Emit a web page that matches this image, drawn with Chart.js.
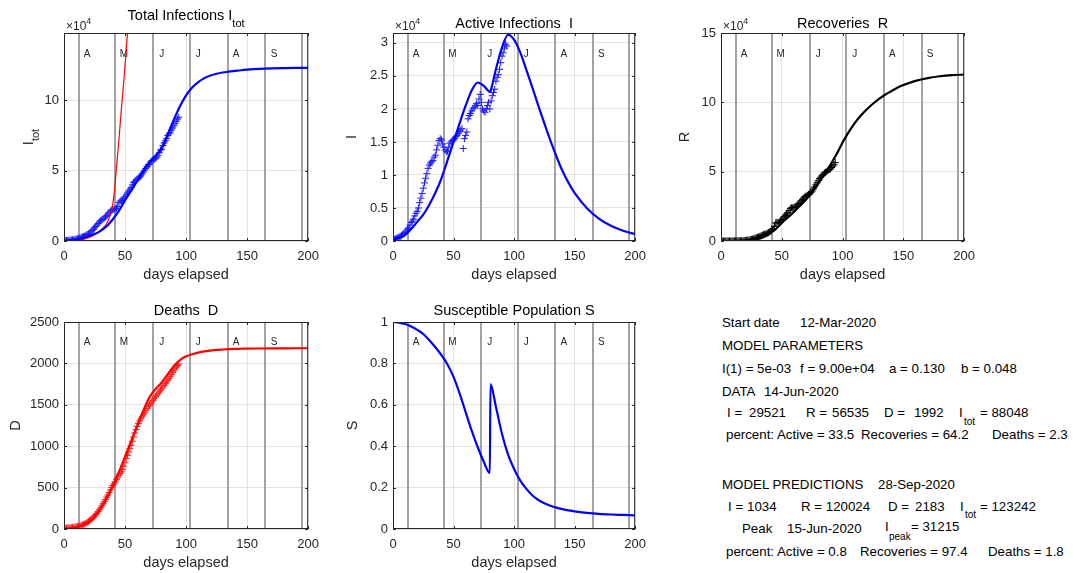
<!DOCTYPE html>
<html>
<head>
<meta charset="utf-8">
<title>COVID model</title>
<script src="https://cdn.jsdelivr.net/npm/chart.js@4.4.0/dist/chart.umd.min.js"></script>
<style>
  body { margin: 0; background: #fff; width: 1073px; height: 573px; position: relative; overflow: hidden;
         font-family: "Liberation Sans", Arial, sans-serif; }
  canvas { position: absolute; }
  .t { position: absolute; font-size: 13.3px; line-height: 16px; color: #000; white-space: pre; }
  .s { position: absolute; font-size: 10px; line-height: 12px; color: #000; white-space: pre; }
</style>
</head>
<body>
<canvas id="cItot" width="327" height="289" style="left:0;top:0"></canvas>
<canvas id="cI" width="325" height="289" style="left:329px;top:0"></canvas>
<canvas id="cR" width="326" height="289" style="left:657px;top:0"></canvas>
<canvas id="cD" width="327" height="288" style="left:0;top:289px"></canvas>
<canvas id="cS" width="325" height="288" style="left:329px;top:289px"></canvas>

<!-- summary text panel -->
<div class="t" style="left:722px;top:315px">Start date</div>
<div class="t" style="left:800px;top:315px">12-Mar-2020</div>
<div class="t" style="left:722px;top:338px">MODEL PARAMETERS</div>
<div class="t" style="left:722px;top:361px">I(1) = 5e-03</div>
<div class="t" style="left:800px;top:361px">f = 9.00e+04</div>
<div class="t" style="left:889px;top:361px">a = 0.130</div>
<div class="t" style="left:961px;top:361px">b = 0.048</div>
<div class="t" style="left:722px;top:384px">DATA</div>
<div class="t" style="left:764px;top:384px">14-Jun-2020</div>
<div class="t" style="left:727px;top:405px">I =</div>
<div class="t" style="left:749px;top:405px">29521</div>
<div class="t" style="left:806px;top:405px">R =</div>
<div class="t" style="left:832px;top:405px">56535</div>
<div class="t" style="left:884px;top:405px">D =</div>
<div class="t" style="left:914px;top:405px">1992</div>
<div class="t" style="left:959px;top:405px">I</div>
<div class="s" style="left:964px;top:416px">tot</div>
<div class="t" style="left:980px;top:405px">= 88048</div>
<div class="t" style="left:726px;top:427px">percent: Active = 33.5</div>
<div class="t" style="left:861px;top:427px">Recoveries = 64.2</div>
<div class="t" style="left:992px;top:427px">Deaths = 2.3</div>
<div class="t" style="left:722px;top:477px">MODEL PREDICTIONS</div>
<div class="t" style="left:878px;top:477px">28-Sep-2020</div>
<div class="t" style="left:728px;top:499px">I =</div>
<div class="t" style="left:747px;top:499px">1034</div>
<div class="t" style="left:801px;top:499px">R = 120024</div>
<div class="t" style="left:888px;top:499px">D =</div>
<div class="t" style="left:915px;top:499px">2183</div>
<div class="t" style="left:960px;top:499px">I</div>
<div class="s" style="left:965px;top:509px">tot</div>
<div class="t" style="left:980px;top:499px">= 123242</div>
<div class="t" style="left:742px;top:521px">Peak</div>
<div class="t" style="left:787px;top:521px">15-Jun-2020</div>
<div class="t" style="left:885px;top:519px">I</div>
<div class="s" style="left:889px;top:531px">peak</div>
<div class="t" style="left:911px;top:519px">= 31215</div>
<div class="t" style="left:726px;top:544px">percent: Active = 0.8</div>
<div class="t" style="left:860px;top:544px">Recoveries = 97.4</div>
<div class="t" style="left:988px;top:544px">Deaths = 1.8</div>

<script>
// ---------------------------------------------------------
// Axis ticks, month markers (vertical lines) and their letters
// ---------------------------------------------------------
const xTicks = [0, 50, 100, 150, 200];
const itotTicks = [0, 50000, 100000];
const iTicks = [0, 5000, 10000, 15000, 20000, 25000, 30000];
const rTicks = [0, 50000, 100000, 150000];
const dTicks = [0, 500, 1000, 1500, 2000, 2500];
const sTicks = [0, 0.2, 0.4, 0.6, 0.8, 1];

const monthLines = [12, 42, 73, 103, 134, 165, 195];
const monthLabels = ["A", "M", "J", "J", "A", "S"];

// ---------------------------------------------------------
// Observed data: one value per day, day 0 (12-Mar) .. day 94 (14-Jun)
// ---------------------------------------------------------
const dataI = [
  200, 300, 300, 400, 500, 600, 700, 800, 1000, 1100,
  1300, 1500, 1800, 2000, 2400, 2800, 3000, 3300, 3800, 4200,
  4500, 5000, 5800, 6500, 7200, 8000, 8800, 9500, 10200, 11000,
  11500, 11800, 12000, 12200, 12700, 13000, 13800, 14500, 15200, 15500,
  15300, 14700, 14200, 13800, 13500, 13600, 14200, 14800, 15000, 15200,
  15300, 15500, 15800, 16000, 16300, 16600, 16800, 17000, 14000, 15500,
  16000, 16500, 18500, 19000, 19300, 19700, 20000, 20200, 20500, 20800,
  20500, 21500, 22200, 21000, 20000, 19700, 19500, 20000, 20500, 21000,
  20000, 21200, 22000, 22500, 23000, 24200, 24800, 25200, 26000, 27000,
  28000, 28500, 29200, 29800, 29521
];
const dataR = [
  0, 0, 0, 0, 0, 0, 0, 0, 0, 0,
  50, 60, 80, 100, 120, 150, 180, 200, 250, 300,
  400, 500, 600, 800, 1000, 1200, 1400, 1700, 2000, 2300,
  2700, 3000, 3400, 3800, 4200, 4600, 5000, 5300, 5600, 6000,
  6500, 7000, 8000, 9000, 10500, 13000, 13500, 13000, 13500, 14500,
  15500, 16500, 17500, 18500, 19500, 20500, 22000, 23500, 24000, 24000,
  24200, 24500, 25000, 26000, 27000, 28000, 29000, 30000, 31000, 32000,
  32500, 33000, 33500, 34000, 35000, 36000, 37500, 39000, 40500, 42000,
  43500, 45000, 46000, 47000, 48000, 49000, 49500, 50000, 51000, 51500,
  52000, 53000, 54000, 55000, 56535
];
const dataD = [
  5, 8, 10, 12, 14, 16, 18, 20, 22, 24,
  27, 30, 34, 38, 43, 48, 55, 62, 70, 80,
  90, 100, 112, 125, 140, 155, 172, 190, 210, 232,
  255, 280, 305, 330, 355, 385, 410, 440, 470, 500,
  525, 545, 570, 600, 625, 650, 670, 690, 720, 760,
  800, 850, 890, 930, 970, 1010, 1060, 1110, 1160, 1200,
  1240, 1275, 1305, 1330, 1355, 1380, 1405, 1430, 1455, 1475,
  1495, 1515, 1535, 1555, 1575, 1595, 1615, 1635, 1655, 1675,
  1695, 1715, 1735, 1755, 1775, 1795, 1815, 1840, 1865, 1890,
  1915, 1935, 1955, 1975, 1992
];
const dataItot = [
  205, 308, 310, 412, 514, 616, 718, 820, 1022, 1124,
  1377, 1590, 1914, 2138, 2563, 2998, 3235, 3562, 4120, 4580,
  4990, 5600, 6512, 7425, 8340, 9355, 10372, 11390, 12410, 13532,
  14455, 15080, 15705, 16330, 17255, 17985, 19210, 20240, 21270, 22000,
  22325, 22245, 22770, 23400, 24625, 27250, 28370, 28490, 29220, 30460,
  31600, 32850, 34190, 35430, 36770, 38110, 39860, 41610, 42500, 43300,
  44000, 44800, 45600, 46340, 47670, 49100, 50430, 51660, 52990, 54310,
  54530, 56050, 57270, 57800, 58300, 58900, 59600, 60700, 62690, 64710,
  65230, 67950, 69770, 71290, 72810, 75030, 76150, 77070, 78890, 80410,
  81930, 83445, 85160, 86775, 88048
];

// ---------------------------------------------------------
// Model curves
// ---------------------------------------------------------
const modelDays = [0, 5, 10, 15, 20, 25, 30, 35, 40, 45, 50, 55, 60, 65, 70, 75, 80, 80.5,
  85, 90, 95, 100, 105, 110, 115, 120, 125, 130, 135, 140, 145, 150, 160, 170, 180, 190, 200];
const modelItot = [300, 505, 970, 2000, 3400, 4950, 7250, 10500, 15500, 21400, 28900, 35900,
  42800, 49700, 55600, 60700, 65900, 66600, 75900, 86300, 95800, 103600, 109200, 113100,
  115900, 117700, 119000, 119900, 120500, 121000, 121500, 121900, 122500, 122850, 123050,
  123180, 123242];
const modelI = [300, 500, 900, 1800, 2900, 4000, 5500, 7300, 9500, 12200, 15000, 17800, 20500,
  22800, 24000, 23500, 22600, 22700, 26000, 29300, 31215, 30500, 28600, 26000, 23300, 20500,
  17800, 15200, 12800, 10600, 8800, 7300, 5000, 3400, 2300, 1550, 1034];
const modelR = [0, 0, 50, 150, 400, 800, 1500, 2800, 5500, 8500, 13000, 17000, 21000, 25500,
  30000, 35500, 41500, 42100, 48000, 55000, 62500, 71000, 78500, 85000, 90500, 95000, 99000,
  102500, 105500, 108000, 110500, 112500, 115500, 117500, 118800, 119600, 120024];
const modelD = [0, 5, 20, 45, 80, 150, 250, 370, 520, 690, 870, 1060, 1250, 1430, 1590, 1690,
  1770, 1780, 1870, 1970, 2040, 2085, 2110, 2130, 2145, 2155, 2163, 2168, 2172, 2175, 2177,
  2179, 2180, 2181, 2182, 2183, 2183];
const modelS = [1.0, 0.997, 0.99, 0.978, 0.962, 0.942, 0.912, 0.878, 0.84, 0.795, 0.735, 0.655,
  0.565, 0.475, 0.395, 0.325, 0.27, 0.70, 0.59, 0.46, 0.36, 0.29, 0.235, 0.195, 0.163, 0.14,
  0.124, 0.112, 0.103, 0.096, 0.09, 0.085, 0.078, 0.073, 0.07, 0.068, 0.066];

// early exponential fit of total infections (red line)
const expDays = [0, 10, 20, 25, 30, 35, 38, 39, 41, 43, 45, 47, 49, 51, 53];
const expItot = [0, 300, 2400, 4500, 7700, 12500, 18500, 21500, 33000, 52000, 72000, 94000,
  114000, 136000, 160000];

// ---------------------------------------------------------
// Helpers
// ---------------------------------------------------------
Chart.defaults.font.family = '"Liberation Sans", Arial, sans-serif';

const FONT = '"Liberation Sans", Arial, sans-serif';
const INK = "#262626";

function xy(xs, ys) {
  return ys.map((y, i) => ({ x: xs[i], y: y }));
}
function daily(ys) {
  return ys.map((y, day) => ({ x: day, y: y }));
}
function curve(points, color, width) {
  return {
    data: points, showLine: true, borderColor: color, borderWidth: width,
    pointRadius: 0, fill: false, cubicInterpolationMode: "monotone"
  };
}
function marks(points, color) {
  return {
    data: points, showLine: false, pointStyle: "cross", pointRadius: 3.5,
    borderColor: color, borderWidth: 1, backgroundColor: color
  };
}
function fixedTicks(values) {
  return s => { s.ticks = values.map(v => ({ value: v })); };
}

// text with an optional subscript, drawn centred at (cx, cy)
function subText(ctx, main, sub, cx, cy, size, subSize, drop) {
  ctx.font = size + "px " + FONT;
  const w1 = ctx.measureText(main).width;
  ctx.font = subSize + "px " + FONT;
  const w2 = sub ? ctx.measureText(sub).width : 0;
  const x0 = cx - (w1 + w2) / 2;
  ctx.textAlign = "left";
  ctx.textBaseline = "middle";
  ctx.font = size + "px " + FONT;
  ctx.fillText(main, x0, cy);
  if (sub) {
    ctx.font = subSize + "px " + FONT;
    ctx.fillText(sub, x0 + w1, cy + drop);
  }
}

// MATLAB-like decorations: month lines/letters, box, inward ticks, title, y label, exponent
const matlabAxes = {
  id: "matlabAxes",
  beforeDatasetsDraw(chart) {
    const { ctx, chartArea: a, scales: { x, y } } = chart;
    ctx.save();
    ctx.beginPath();
    ctx.rect(a.left, a.top, a.right - a.left, a.bottom - a.top);
    ctx.clip();
    ctx.strokeStyle = "#a2a2a2";
    ctx.lineWidth = 2;
    monthLines.forEach(d => {
      const px = Math.round(x.getPixelForValue(d));
      ctx.beginPath();
      ctx.moveTo(px, a.top);
      ctx.lineTo(px, a.bottom);
      ctx.stroke();
    });
    ctx.fillStyle = INK;
    ctx.font = "10px " + FONT;
    ctx.textAlign = "center";
    ctx.textBaseline = "middle";
    const ly = y.getPixelForValue(0.9 * y.max);
    monthLabels.forEach((t, i) => ctx.fillText(t, x.getPixelForValue(monthLines[i] + 7), ly));
    ctx.restore();
  },
  afterDraw(chart, args, o) {
    const { ctx, chartArea: a, scales: { x, y } } = chart;
    ctx.save();
    ctx.strokeStyle = INK;
    ctx.lineWidth = 1;
    ctx.strokeRect(a.left + 0.5, a.top + 0.5, a.right - a.left - 1, a.bottom - a.top - 1);

    const tick = (x1, y1, x2, y2) => { ctx.beginPath(); ctx.moveTo(x1, y1); ctx.lineTo(x2, y2); ctx.stroke(); };
    x.ticks.forEach(t => {
      const px = Math.round(x.getPixelForValue(t.value)) + 0.5;
      tick(px, a.bottom, px, a.bottom - 3);
      tick(px, a.top, px, a.top + 3);
    });
    y.ticks.forEach(t => {
      const py = Math.round(y.getPixelForValue(t.value)) + 0.5;
      tick(a.left, py, a.left + 3, py);
      tick(a.right, py, a.right - 3, py);
    });

    // title
    ctx.fillStyle = "#000";
    subText(ctx, o.title, o.titleSub, (a.left + a.right) / 2, a.top - o.titleGap, 14.5, 11, 8);

    // y label
    ctx.save();
    ctx.translate(a.left - o.ylabelGap, (a.top + a.bottom) / 2);
    ctx.rotate(-Math.PI / 2);
    ctx.fillStyle = INK;
    subText(ctx, o.ylabel, o.ylabelSub, 0, 0, 14.5, 11, 7);
    ctx.restore();

    // x10^4 exponent
    if (o.exponent) {
      ctx.fillStyle = INK;
      ctx.textAlign = "left";
      ctx.textBaseline = "middle";
      ctx.font = "12px " + FONT;
      ctx.fillText("\u00d710", a.left + 2, a.top - 6);
      const w = ctx.measureText("\u00d710").width;
      ctx.font = "9px " + FONT;
      ctx.fillText("4", a.left + 2 + w, a.top - 11);
    }
    ctx.restore();
  }
};

function buildChart(id, cfg) {
  return new Chart(document.getElementById(id), {
    type: "scatter",
    data: { datasets: cfg.datasets },
    options: {
      responsive: false,
      animation: false,
      devicePixelRatio: 1,
      layout: { padding: { top: 33, right: 12, left: 0, bottom: 0 } },
      plugins: { legend: { display: false }, tooltip: { enabled: false }, matlabAxes: cfg.deco },
      scales: {
        x: {
          type: "linear", min: 0, max: 200,
          afterFit: s => { s.height = 48; },
          afterBuildTicks: fixedTicks(xTicks),
          ticks: { padding: 8, autoSkip: false, maxRotation: 0, color: INK, font: { size: 13 } },
          grid: { color: "#e2e2e2", drawTicks: false },
          border: { display: false },
          title: { display: true, text: "days elapsed", color: INK, font: { size: 14.5 }, padding: { top: 0, bottom: 5 } }
        },
        y: {
          type: "linear", min: 0, max: cfg.ymax,
          afterFit: s => { s.width = 64; },
          afterBuildTicks: fixedTicks(cfg.yticks),
          ticks: { padding: 5, autoSkip: false, color: INK, font: { size: 13 }, callback: cfg.fmt },
          grid: { color: "#e2e2e2", drawTicks: false },
          border: { display: false }
        }
      }
    },
    plugins: [matlabAxes]
  });
}

const per1e4 = v => String(Math.round(v / 1e3) / 10);

// ---------------------------------------------------------
// Panels
// ---------------------------------------------------------
buildChart("cItot", {
  ymax: 148000, yticks: itotTicks, fmt: per1e4,
  deco: { title: "Total Infections I", titleSub: "tot", titleGap: 17, ylabel: "I", ylabelSub: "tot", ylabelGap: 35, exponent: true },
  datasets: [
    curve(xy(modelDays, modelItot), "#0000ff", 2.2),
    curve(xy(expDays, expItot), "#ff0000", 1.2),
    marks(daily(dataItot), "#1a1aff")
  ]
});

buildChart("cI", {
  ymax: 31500, yticks: iTicks, fmt: per1e4,
  deco: { title: "Active Infections  I", titleSub: "", titleGap: 9.5, ylabel: "I", ylabelSub: "", ylabelGap: 41, exponent: true },
  datasets: [
    curve(xy(modelDays, modelI), "#0000ff", 2.2),
    marks(daily(dataI), "#1a1aff")
  ]
});

buildChart("cR", {
  ymax: 150000, yticks: rTicks, fmt: per1e4,
  deco: { title: "Recoveries  R", titleSub: "", titleGap: 9.5, ylabel: "R", ylabelSub: "", ylabelGap: 36, exponent: true },
  datasets: [
    curve(xy(modelDays, modelR), "#000000", 2.2),
    marks(daily(dataR), "#000000")
  ]
});

buildChart("cD", {
  ymax: 2500, yticks: dTicks, fmt: v => String(v),
  deco: { title: "Deaths  D", titleSub: "", titleGap: 11, ylabel: "D", ylabelSub: "", ylabelGap: 48, exponent: false },
  datasets: [
    curve(xy(modelDays, modelD), "#ff0000", 2.2),
    marks(daily(dataD), "#ff1a1a")
  ]
});

buildChart("cS", {
  ymax: 1, yticks: sTicks, fmt: v => String(Math.round(v * 10) / 10),
  deco: { title: "Susceptible Population S", titleSub: "", titleGap: 11, ylabel: "S", ylabelSub: "", ylabelGap: 40, exponent: false },
  datasets: [
    curve(xy(modelDays, modelS), "#0000ff", 2.2)
  ]
});
</script>
</body>
</html>
